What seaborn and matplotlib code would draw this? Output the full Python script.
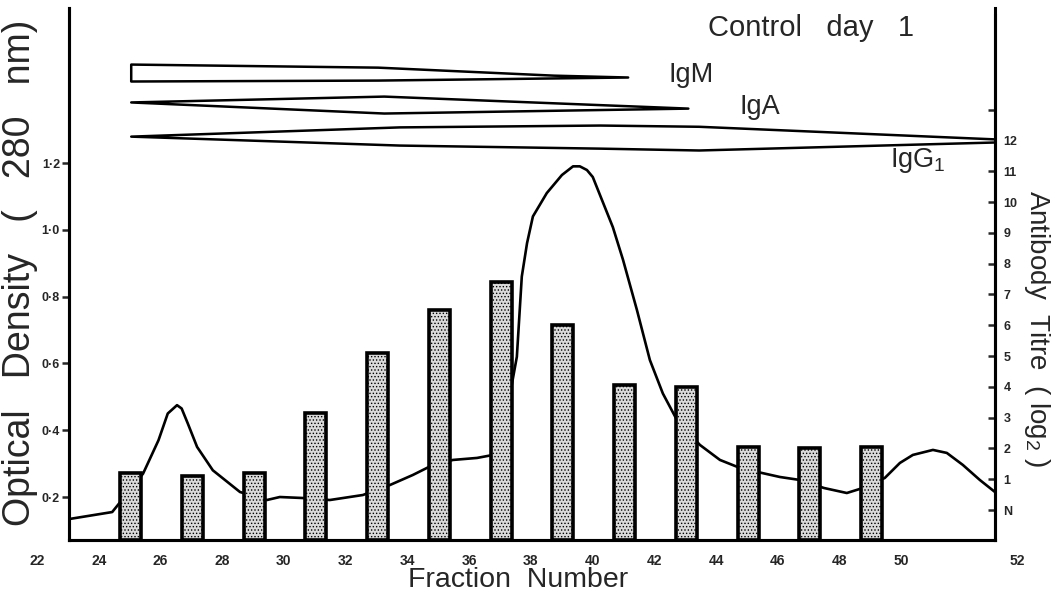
import numpy as np
import pandas as pd
import seaborn as sns
import matplotlib.pyplot as plt
from matplotlib.transforms import ScaledTranslation

# optical density trace (fraction number -> OD at 280 nm)
od_fraction = [22.0, 23.4, 24.4, 24.9, 25.2, 25.5, 25.65, 25.85, 26.15, 26.66, 27.54, 28.41,
               28.83, 29.58, 30.45, 31.52, 32.4, 33.14, 33.79, 34.44, 35.22, 35.74, 36.0, 36.51,
               36.67, 36.84, 37.03, 37.48, 37.97, 38.33, 38.55, 38.78, 38.97, 39.62, 39.95, 40.4,
               40.82, 41.24, 41.7, 42.44, 43.09, 43.74, 44.45, 45.03, 45.68, 46.46, 47.2, 47.72,
               48.43, 48.92, 49.34, 49.99, 50.44, 50.96, 51.51, 52.0]
od_value = [0.134, 0.155, 0.27, 0.37, 0.45, 0.475, 0.465, 0.42, 0.35, 0.28, 0.215, 0.191,
            0.2, 0.197, 0.191, 0.206, 0.236, 0.266, 0.296, 0.311, 0.317, 0.326, 0.36, 0.62,
            0.86, 0.96, 1.04, 1.11, 1.164, 1.19, 1.19, 1.179, 1.158, 1.008, 0.91, 0.76,
            0.61, 0.51, 0.43, 0.356, 0.311, 0.287, 0.272, 0.26, 0.251, 0.227, 0.212, 0.227,
            0.257, 0.302, 0.326, 0.341, 0.332, 0.296, 0.251, 0.215]

# antibody titre (log2) per fraction
bar_fraction = [24, 26, 28, 30, 32, 34, 36, 38, 40, 42, 44, 46, 48]
bar_titre = [1.2, 1.1, 1.2, 3.15, 5.1, 6.5, 7.4, 6.0, 4.05, 4.0, 2.05, 2.0, 2.05]

# immunoglobulin class profiles (fraction, upper / lower edge on the titre scale)
igm_x = [24, 32, 37.7, 40.1]
igm_top = [14.48, 14.38, 14.12, 14.06]
igm_bottom = [13.93, 13.96, 14.03, 14.06]
iga_x = [24, 32.2, 42.05]
iga_top = [13.25, 13.44, 13.05]
iga_bottom = [13.25, 12.89, 13.05]
igg_x = [24, 32.7, 39.2, 42.4, 52]
igg_top = [12.14, 12.44, 12.5, 12.46, 12.05]
igg_bottom = [12.14, 11.85, 11.75, 11.69, 11.95]

od_ticks = [0.2, 0.4, 0.6, 0.8, 1.0, 1.2]
od_ticklabels = ['0·2', '0·4', '0·6', '0·8', '1·0', '1·2']
titre_ticks = list(range(0, 14))
titre_ticklabels = ['N'] + [str(i) for i in range(1, 13)] + ['']
fraction_ticks = list(range(22, 53, 2))

sns.set_style('white')
plt.rcParams['font.family'] = ['Liberation Sans', 'DejaVu Sans']
plt.rcParams['mathtext.fontset'] = 'custom'
plt.rcParams['mathtext.rm'] = 'Liberation Sans'
plt.rcParams['hatch.linewidth'] = 0.6

fig = plt.figure(figsize=(10.63, 5.94), dpi=100)
ax = fig.add_axes([0.0649, 0.0909, 0.8711, 0.8956])
ax2 = ax.twinx()

od_df = pd.DataFrame({'fraction': od_fraction, 'od': od_value})
sns.lineplot(data=od_df, x='fraction', y='od', ax=ax, color='black', linewidth=1.9)

titre_floor = -0.974
bar_df = pd.DataFrame({'fraction': bar_fraction, 'titre': bar_titre})
bar_df['height'] = bar_df['titre'] - titre_floor
sns.barplot(data=bar_df, x='fraction', y='height', ax=ax2, native_scale=True, width=0.34,
            color='#dadada', edgecolor='black', linewidth=2.6, bottom=titre_floor,
            hatch='.....', saturation=1)

for bx, top, bot in [(igm_x, igm_top, igm_bottom), (iga_x, iga_top, iga_bottom),
                     (igg_x, igg_top, igg_bottom)]:
    ax2.fill_between(bx, top, bot, facecolor='white', edgecolor='black', linewidth=1.8)

ax.set_xlim(22, 52)
ax.set_ylim(0.0713, 1.664)
ax2.set_ylim(titre_floor, 16.30)

for a in (ax, ax2):
    a.spines['top'].set_visible(False)
    for s in ('left', 'right', 'bottom'):
        a.spines[s].set_linewidth(2.2)
        a.spines[s].set_color('black')
ax2.spines['right'].set_bounds(titre_floor, 16.07)

ax.set_yticks(od_ticks)
ax.set_yticklabels(od_ticklabels, fontsize=9, fontweight='bold')
ax.tick_params(axis='y', direction='out', length=5, width=1.8, pad=1.5)
ax2.set_yticks(titre_ticks)
ax2.set_yticklabels(titre_ticklabels, fontsize=9, fontweight='bold')
ax2.tick_params(axis='y', direction='in', length=5, width=1.8, pad=6)

ax.set_xticks(fraction_ticks)
ax.set_xticklabels([str(t) for t in fraction_ticks], fontsize=10, fontweight='bold')
ax.tick_params(axis='x', length=0, pad=10)
for i, lab in enumerate(ax.get_xticklabels()):
    dx = 0.22 if i == len(fraction_ticks) - 1 else -0.32
    lab.set_transform(lab.get_transform() + ScaledTranslation(dx, 0, fig.dpi_scale_trans))
ax2.set_xlabel('')

ax.set_xlabel('Fraction  Number', fontsize=20.5, va='center')
ax.xaxis.set_label_coords(0.485, -0.075)
ax.set_ylabel('Optical   Density   (   280   nm)', fontsize=27, va='center')
ax.yaxis.set_label_coords(-0.053, 0.502)
ax2.set_ylabel(r'Antibody  Titre  ( log$_\mathregular{2}$ )', fontsize=20, rotation=270,
               va='center')
ax2.yaxis.set_label_coords(1.045, 0.398)

ax.text(0.801, 0.962, 'Control   day   1', transform=ax.transAxes, fontsize=21,
        ha='center', va='center')
ax2.text(42.15, 14.12, 'IgM', fontsize=19.5, ha='center', va='center')
ax2.text(44.38, 13.08, 'IgA', fontsize=19.5, ha='center', va='center')
ax2.text(49.5, 11.36, r'IgG$_\mathregular{1}$', fontsize=19.5, ha='center', va='center')

fig.savefig('out.png', dpi=100, facecolor='white')
